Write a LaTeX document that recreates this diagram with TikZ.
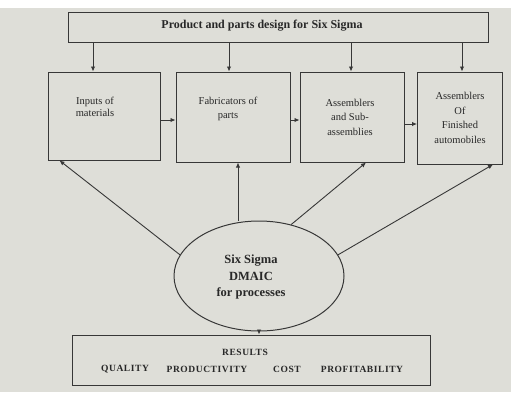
\documentclass[tikz,border=0pt]{standalone}
\usepackage{fontspec}
\setmainfont{Liberation Serif}
\usetikzlibrary{arrows.meta,shapes.geometric,calc}
\definecolor{paper}{RGB}{222,222,216}
\definecolor{ink}{RGB}{55,55,55}
\definecolor{txt}{RGB}{40,40,40}
\tikzset{
  box/.style={draw=ink,line width=1pt,rectangle,inner sep=0pt},
  lbl/.style={text=txt,font=\fontsize{10.5}{14.5}\selectfont,align=center,inner sep=0pt},
  rlbl/.style={text=txt,font=\fontsize{9.5}{11}\selectfont\bfseries\addfontfeature{LetterSpace=6},inner sep=0pt},
  arr/.style={draw=ink,line width=0.9pt,-{Latex[length=5pt,width=4.5pt]}},
}
\begin{document}
\begin{tikzpicture}[x=1pt,y=-1pt]
\fill[paper] (0,0) rectangle (511,392);
\fill[white] (0,0) rectangle (511,8);
\useasboundingbox (0,0) rectangle (511,392);
% top box
\node[box,minimum width=420pt,minimum height=30pt] (top) at (278,27) {};
\node[lbl,font=\fontsize{12}{14}\selectfont\bfseries] (toptext) at (262,26) {Product and parts design for Six Sigma};
% four boxes
\node[box,minimum width=112pt,minimum height=88pt] (b1) at (104,116) {};
\node[box,minimum width=114pt,minimum height=90pt] (b2) at (233,117) {};
\node[box,minimum width=104pt,minimum height=90pt] (b3) at (352,117) {};
\node[box,minimum width=85pt,minimum height=92pt] (b4) at (460,118) {};
\node[lbl,font=\fontsize{10.5}{12}\selectfont] (t1) at (95,107) {Inputs of\\materials};
\node[lbl] (t2) at (228,109) {Fabricators of\\parts};
\node[lbl] (t3) at (350,117) {Assemblers\\and Sub-\\assemblies};
\node[lbl] (t4) at (460,118) {Assemblers\\Of\\Finished\\automobiles};
% ellipse
\node[draw=ink,line width=1pt,ellipse,minimum width=170pt,minimum height=110pt,inner sep=0pt] (el) at (259,276) {};
\node[lbl,font=\fontsize{12.5}{16.5}\selectfont\bfseries] (elt) at (251,277) {Six Sigma\\DMAIC\\for processes};
% results
\node[box,minimum width=358pt,minimum height=50pt] (res) at (251,360) {};
\node[rlbl] (r1) at (245,352) {RESULTS};
\node[rlbl] (q1) at (125,369) {QUALITY};
\node[rlbl] (q2) at (207,369) {PRODUCTIVITY};
\node[rlbl] (q3) at (287,369) {COST};
\node[rlbl] (q4) at (362,369) {PROFITABILITY};
% arrows from top
\draw[arr] (top.south -| 93,0) -- (b1.north -| 93,0);
\draw[arr] (top.south -| 229,0) -- (b2.north -| 229,0);
\draw[arr] (top.south -| 351,0) -- (b3.north -| 351,0);
\draw[arr] (top.south -| 462,0) -- (b4.north -| 462,0);
% horizontal arrows
\draw[arr] (b1.east |- 0,120) -- (b2.west |- 0,120);
\draw[arr] (b2.east |- 0,120) -- (b3.west |- 0,120);
\draw[arr] (b3.east |- 0,124) -- (b4.west |- 0,124);
% ellipse to boxes
\draw[arr] (el.165) -- ([xshift=12pt]b1.south west);
\draw[arr] (el.north -| 238,0) -- (b2.south -| 238,0);
\draw[arr] (el.58) -- ([xshift=14pt]b3.south);
\draw[arr] (el.15) -- ([xshift=-10pt]b4.south east);
% ellipse to results
\draw[arr] (el.south) -- (res.north -| el.south);
\end{tikzpicture}
\end{document}
